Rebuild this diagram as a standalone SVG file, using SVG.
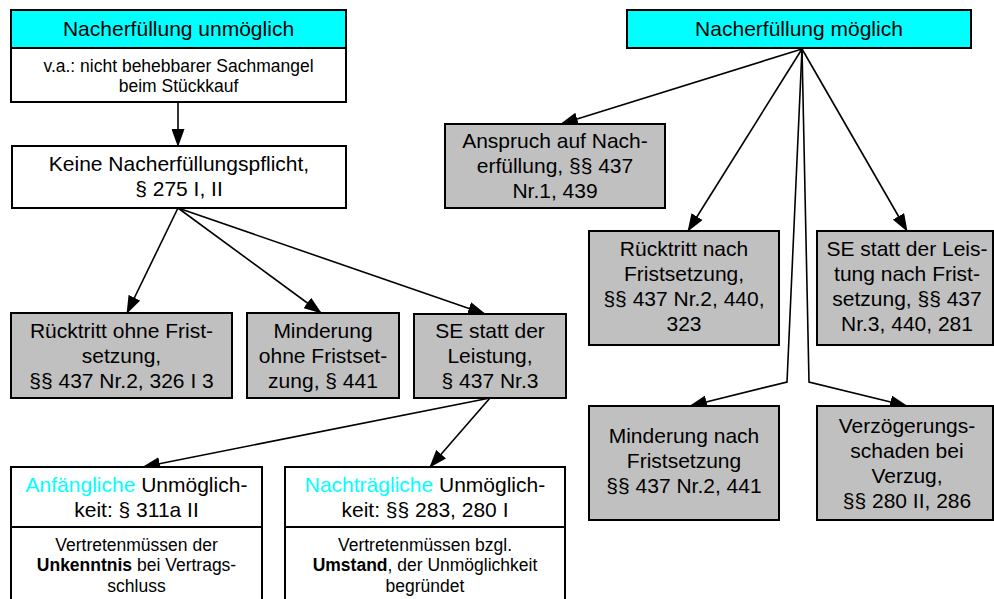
<svg xmlns="http://www.w3.org/2000/svg" width="994" height="599" viewBox="0 0 994 599">
<style>
text{font-family:"Liberation Sans",Arial,sans-serif;fill:#000;text-anchor:middle}
.t{font-size:21px}
.s{font-size:17.5px}
.b{font-weight:bold}
.c{fill:#00FFFF}
.box{stroke:#000;stroke-width:2}
.cy{fill:#00FFFF}
.wh{fill:#FFFFFF}
.gr{fill:#C0C0C0}
.con{fill:none;stroke:#000;stroke-width:1.6;marker-end:url(#ah)}
</style>
<defs>
<marker id="ah" markerUnits="userSpaceOnUse" viewBox="0 0 18 13" refX="17" refY="6.5" markerWidth="18" markerHeight="13" orient="auto">
<path d="M0,0 L18,6.5 L0,13 z" fill="#000"/>
</marker>
</defs>
<rect width="994" height="599" fill="#fff"/>

<g id="connectors">
<line class="con" x1="178" y1="102" x2="178" y2="146"/>
<line class="con" x1="178" y1="208" x2="127" y2="313"/>
<line class="con" x1="178" y1="208" x2="321" y2="313"/>
<line class="con" x1="178" y1="208" x2="485" y2="314"/>
<line class="con" x1="490" y1="398" x2="143" y2="467"/>
<line class="con" x1="490" y1="398" x2="430" y2="467"/>
<line class="con" x1="802" y1="49" x2="561" y2="124"/>
<line class="con" x1="802" y1="49" x2="688" y2="231"/>
<line class="con" x1="802" y1="49" x2="907" y2="231"/>
<polyline class="con" points="802,49 787,382 690,406"/>
<polyline class="con" points="802,49 809,382 907,406"/>
</g>

<g id="n-unmoeglich">
<rect class="box cy" x="11" y="10" width="335" height="38"/>
<text class="t" x="178.5" y="36">Nacherfüllung unmöglich</text>
<rect class="box wh" x="11" y="48" width="335" height="54"/>
<text class="s" x="178.5" y="72">v.a.: nicht behebbarer Sachmangel</text>
<text class="s" x="178.5" y="92">beim Stückkauf</text>
</g>

<g id="n-keine">
<rect class="box wh" x="12" y="146" width="334" height="62"/>
<text class="t" x="179" y="171">Keine Nacherfüllungspflicht,</text>
<text class="t" x="179" y="196">§ 275 I, II</text>
</g>

<g id="n-ruecktritt-ohne">
<rect class="box gr" x="11" y="313" width="221" height="85"/>
<text class="t" x="121.5" y="338">Rücktritt ohne Frist-</text>
<text class="t" x="121.5" y="363">setzung,</text>
<text class="t" x="121.5" y="388">§§ 437 Nr.2, 326 I 3</text>
</g>

<g id="n-minderung-ohne">
<rect class="box gr" x="247" y="313" width="152" height="85"/>
<text class="t" x="323" y="338">Minderung</text>
<text class="t" x="323" y="363">ohne Fristset-</text>
<text class="t" x="323" y="388">zung, § 441</text>
</g>

<g id="n-se-statt">
<rect class="box gr" x="414" y="314" width="152" height="84"/>
<text class="t" x="490" y="338">SE statt der</text>
<text class="t" x="490" y="363">Leistung,</text>
<text class="t" x="490" y="388">§ 437 Nr.3</text>
</g>

<g id="n-anfaenglich">
<rect class="box wh" x="11" y="467" width="251" height="60"/>
<text class="t" x="136.5" y="492"><tspan class="c">Anfängliche</tspan> Unmöglich-</text>
<text class="t" x="136.5" y="517">keit: § 311a II</text>
<rect class="box wh" x="11" y="527" width="251" height="80"/>
<text class="s" x="136.5" y="551">Vertretenmüssen der</text>
<text class="s" x="136.5" y="571"><tspan class="b">Unkenntnis</tspan> bei Vertrags-</text>
<text class="s" x="136.5" y="592">schluss</text>
</g>

<g id="n-nachtraeglich">
<rect class="box wh" x="285" y="467" width="280" height="60"/>
<text class="t" x="425" y="492"><tspan class="c">Nachträgliche</tspan> Unmöglich-</text>
<text class="t" x="425" y="517">keit: §§ 283, 280 I</text>
<rect class="box wh" x="285" y="527" width="280" height="80"/>
<text class="s" x="425" y="551">Vertretenmüssen bzgl.</text>
<text class="s" x="425" y="571"><tspan class="b">Umstand</tspan>, der Unmöglichkeit</text>
<text class="s" x="425" y="592">begründet</text>
</g>

<g id="n-moeglich">
<rect class="box cy" x="627" y="10" width="344" height="38"/>
<text class="t" x="799" y="36">Nacherfüllung möglich</text>
</g>

<g id="n-anspruch">
<rect class="box gr" x="445" y="124" width="220" height="84"/>
<text class="t" x="555" y="148">Anspruch auf Nach-</text>
<text class="t" x="555" y="173">erfüllung, §§ 437</text>
<text class="t" x="555" y="198">Nr.1, 439</text>
</g>

<g id="n-ruecktritt-nach">
<rect class="box gr" x="589" y="231" width="190" height="114"/>
<text class="t" x="684" y="256">Rücktritt nach</text>
<text class="t" x="684" y="281">Fristsetzung,</text>
<text class="t" x="684" y="306">§§ 437 Nr.2, 440,</text>
<text class="t" x="684" y="331">323</text>
</g>

<g id="n-se-nach">
<rect class="box gr" x="817" y="231" width="176" height="114"/>
<text class="t" x="907" y="256">SE statt der Leis-</text>
<text class="t" x="907" y="281">tung nach Frist-</text>
<text class="t" x="907" y="306">setzung, §§ 437</text>
<text class="t" x="907" y="331">Nr.3, 440, 281</text>
</g>

<g id="n-minderung-nach">
<rect class="box gr" x="589" y="406" width="190" height="114"/>
<text class="t" x="684" y="443">Minderung nach</text>
<text class="t" x="684" y="468">Fristsetzung</text>
<text class="t" x="684" y="493">§§ 437 Nr.2, 441</text>
</g>

<g id="n-verzoegerung">
<rect class="box gr" x="817" y="406" width="176" height="114"/>
<text class="t" x="907" y="433">Verzögerungs-</text>
<text class="t" x="907" y="458">schaden bei</text>
<text class="t" x="907" y="483">Verzug,</text>
<text class="t" x="907" y="508">§§ 280 II, 286</text>
</g>
</svg>
